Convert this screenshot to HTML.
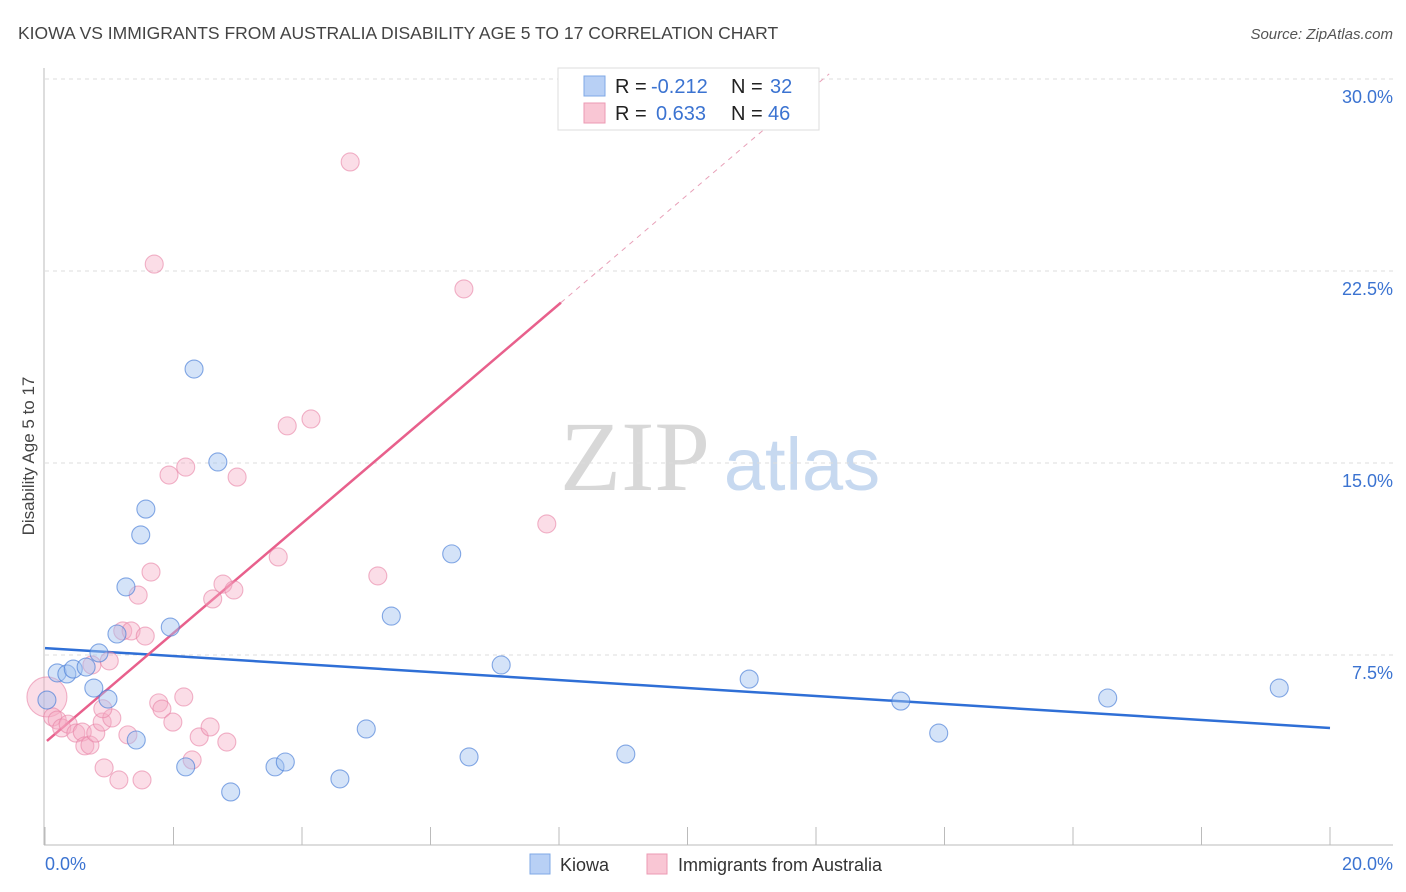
<!DOCTYPE html>
<html><head><meta charset="utf-8"><style>
body{margin:0;background:#fff;font-family:"Liberation Sans",sans-serif}
</style></head><body>
<svg id="c" width="1406" height="892" xmlns="http://www.w3.org/2000/svg" style="display:block">
<text x="18" y="39" font-size="17.5" fill="#444">KIOWA VS IMMIGRANTS FROM AUSTRALIA DISABILITY AGE 5 TO 17 CORRELATION CHART</text>
<text x="1393" y="39" font-size="15" fill="#555" font-style="italic" text-anchor="end">Source: ZipAtlas.com</text>
<text x="34" y="456" font-size="17" fill="#444" text-anchor="middle" transform="rotate(-90 34 456)">Disability Age 5 to 17</text>
<g>
<text x="635" y="490" font-size="100" font-family="Liberation Serif,serif" fill="#d8d8d8" text-anchor="middle">ZIP</text>
<text x="802" y="490" font-size="74" fill="#c7d9f0" text-anchor="middle">atlas</text>
</g>
<g id="grid"></g><g id="axes"></g><g id="lines"></g><g id="pts"></g>
<g>
<rect x="558" y="68" width="261" height="62" fill="#fff" stroke="#ddd"/>
<rect x="584" y="76" width="21" height="20" fill="#b8d0f5" stroke="#7fa8e6"/>
<rect x="584" y="103" width="21" height="20" fill="#f9c6d4" stroke="#ec9ab3"/>
<text x="615" y="93" font-size="20" fill="#222">R = <tspan fill="#3b73d1" x="651">-0.212</tspan><tspan x="731">N = </tspan><tspan fill="#3b73d1" x="770">32</tspan></text>
<text x="615" y="120" font-size="20" fill="#222">R = <tspan fill="#3b73d1" x="656">0.633</tspan><tspan x="731">N = </tspan><tspan fill="#3b73d1" x="768">46</tspan></text>
</g>
<g>
<rect x="530" y="854" width="20" height="20" fill="#b8d0f5" stroke="#7fa8e6"/>
<text x="560" y="871" font-size="18" fill="#333">Kiowa</text>
<rect x="647" y="854" width="20" height="20" fill="#f9c6d4" stroke="#ec9ab3"/>
<text x="678" y="871" font-size="18" fill="#333">Immigrants from Australia</text>
</g>
</svg>
<script>
const yTicks=[7.5,15,22.5,30];
const yTickLabels=["7.5%","15.0%","22.5%","30.0%"];
const xTickLabels=["0.0%","20.0%"];
const kiowaX=[.03,.19,.34,.44,.64,.76,.84,.98,1.12,1.26,1.42,1.49,1.57,1.95,2.19,2.32,2.69,2.89,3.58,3.74,4.59,5.00,5.39,6.33,6.60,7.10,9.04,10.96,13.32,13.91,16.54,19.21];
const kiowaY=[5.74,6.80,6.76,6.95,7.03,6.21,7.58,5.78,8.32,10.16,4.18,12.19,13.20,8.59,3.13,18.67,15.04,2.15,3.13,3.32,2.66,4.61,9.02,11.45,3.52,7.11,3.63,6.56,5.70,4.45,5.82,6.21];
const ausX=[.03,.12,.19,.26,.36,.48,.58,.62,.70,.73,.79,.89,.92,1.00,1.04,1.15,1.21,1.29,1.34,1.45,1.51,1.56,1.65,1.70,1.77,1.82,1.93,1.99,2.16,2.19,2.29,2.40,2.57,2.61,2.77,2.83,2.94,2.99,3.63,3.77,4.14,4.75,5.18,6.52,7.81,0.90];
const ausY=[5.86,5.08,4.96,4.65,4.80,4.45,4.49,3.95,3.98,7.11,4.45,4.88,3.09,7.27,5.04,2.62,8.44,4.38,8.44,9.84,2.62,8.24,10.74,22.77,5.63,5.39,14.53,4.88,5.86,14.84,3.40,4.30,4.69,9.69,10.27,4.10,10.04,14.45,11.33,16.45,16.72,26.76,10.59,21.80,12.62,5.40];
const kiowaTrend=[7.77,4.65];
const ausTrend=[4.08,2.14];
const X=v=>45+v*64.25, Y=v=>847-v*25.6;
const NS="http://www.w3.org/2000/svg";
function mk(p,t,a){const e=document.createElementNS(NS,t);for(const k in a)e.setAttribute(k,a[k]);p.appendChild(e);return e;}
const grid=document.getElementById('grid'),axes=document.getElementById('axes'),lines=document.getElementById('lines'),pts=document.getElementById('pts');
yTicks.forEach((t,i)=>{
 const l=mk(grid,'line',{x1:45,x2:1393,y1:Y(t),y2:Y(t),stroke:'#ddd','stroke-dasharray':'4,4'});
 
 
 const tx=mk(grid,'text',{x:1393,y:Y(t)+24,'font-size':18,fill:'#3b73d1','text-anchor':'end'});
 tx.textContent=yTickLabels[i];
 
 
});
const ax=mk(axes,'line',{x1:44,x2:44,y1:68,y2:845,stroke:'#bbb'});


const bx=mk(axes,'line',{x1:44,x2:1393,y1:845,y2:845,stroke:'#bbb'});


for(let i=0;i<=10;i++){const t=mk(axes,'line',{x1:X(i*2),x2:X(i*2),y1:827,y2:845,stroke:'#bbb'});
 
 }
[[0,'start',45],[20,'end',1393]].forEach((d,i)=>{const t=mk(axes,'text',{x:d[2],y:870,'font-size':18,fill:'#3b73d1','text-anchor':d[1]});t.textContent=xTickLabels[i];
 
 });
const bl=mk(lines,'line',{x1:X(0),y1:Y(kiowaTrend[0]),x2:X(20),y2:Y(kiowaTrend[1]),stroke:'#2f6fd6','stroke-width':2.5});


const xe=8.03,xd=(30.2-ausTrend[0])/ausTrend[1];
const pl=mk(lines,'line',{x1:X(0.03),y1:Y(ausTrend[0]+ausTrend[1]*0.03),x2:X(xe),y2:Y(ausTrend[0]+ausTrend[1]*xe),stroke:'#e8608c','stroke-width':2.5});


const pd=mk(lines,'line',{x1:X(xe),y1:Y(ausTrend[0]+ausTrend[1]*xe),x2:X(xd),y2:Y(30.2),stroke:'#e8a0b8','stroke-width':1,'stroke-dasharray':'5,5'});


ausX.forEach((x,i)=>{const c=mk(pts,'circle',{cx:X(x),cy:Y(ausY[i]),r:i==0?20:9,fill:'rgba(246,170,196,0.4)',stroke:'rgba(232,130,165,0.6)','stroke-width':1.1});
 
 });
kiowaX.forEach((x,i)=>{const c=mk(pts,'circle',{cx:X(x),cy:Y(kiowaY[i]),r:9,fill:'rgba(160,192,240,0.45)',stroke:'rgba(70,125,215,0.65)','stroke-width':1.1});
 
 });
</script>
</body></html>
